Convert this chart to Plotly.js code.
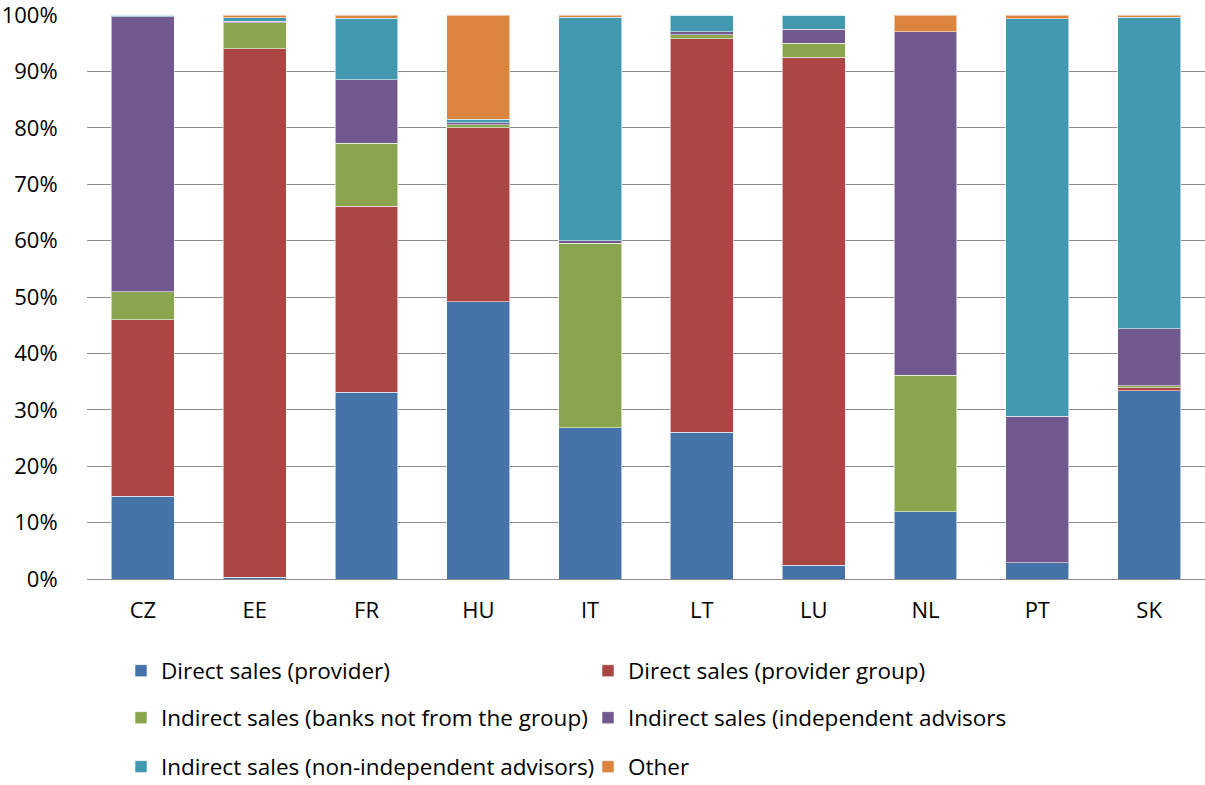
<!DOCTYPE html>
<html>
<head>
<meta charset="utf-8">
<script src="https://cdn.plot.ly/plotly-3.0.1.min.js"></script>
<style>html,body{margin:0;padding:0;background:#fff;}#chart{width:1205px;height:785px;}</style>
</head>
<body>
<div id="chart"></div>
<script>
const categories = ["CZ", "EE", "FR", "HU", "IT", "LT", "LU", "NL", "PT", "SK"];
const directProvider      = [14.7,  0.3, 33.1, 49.2, 26.8, 26.0,  2.4, 11.9,  2.9, 33.4];
const directProviderGroup = [31.3, 93.7, 33.0, 30.8,  0.0, 69.8, 90.1,  0.0,  0.0,  0.5];
const indirectBanks       = [ 4.9,  4.6, 11.2,  0.5, 32.7,  0.7,  2.5, 24.2,  0.0,  0.4];
const indirectIndependent = [48.8,  0.3, 11.2,  0.4,  0.5,  0.5,  2.5, 60.9, 26.0, 10.1];
const indirectNonIndep    = [ 0.3,  0.6, 10.9,  0.6, 39.6,  3.0,  2.5,  0.0, 70.4, 55.2];
const other               = [ 0.0,  0.5,  0.6, 18.5,  0.4,  0.0,  0.0,  3.0,  0.7,  0.4];
const seriesNames = [
  "Direct sales (provider)",
  "Direct sales (provider group)",
  "Indirect sales (banks not from the group)",
  "Indirect sales (independent advisors",
  "Indirect sales (non-independent advisors)",
  "Other"
];
const yTickVals = [0, 10, 20, 30, 40, 50, 60, 70, 80, 90, 100];
const yTickText = ["0%", "10%", "20%", "30%", "40%", "50%", "60%", "70%", "80%", "90%", "100%"];

const seriesValues = [directProvider, directProviderGroup, indirectBanks, indirectIndependent, indirectNonIndep, other];
const colors = ["#4572A7", "#AA4643", "#89A54E", "#71588F", "#4198AF", "#DB843D"];
const legendIds = ["legend", "legend", "legend2", "legend2", "legend3", "legend3"];

const FONT = "Open Sans, Noto Sans, sans-serif";

const traces = seriesValues.map((vals, i) => ({
  type: "bar",
  name: seriesNames[i],
  x: categories,
  y: vals,
  legend: legendIds[i],
  marker: { color: colors[i], line: { color: "rgba(255,255,255,0.55)", width: 1 } },
  hoverinfo: "x+y+name"
}));

function legendCfg(yPx) {
  return {
    orientation: "h",
    xref: "container", yref: "container",
    x: 121 / 1205, xanchor: "left",
    y: 1 - yPx / 785, yanchor: "middle",
    entrywidth: 422, entrywidthmode: "pixels",
    font: { family: FONT, size: 22.5, color: "#000" },
    itemwidth: 30,
    bgcolor: "rgba(0,0,0,0)",
    traceorder: "normal"
  };
}

const layout = {
  width: 1205, height: 785,
  margin: { l: 87, r: 0, t: 15, b: 206 },
  paper_bgcolor: "#fff", plot_bgcolor: "#fff",
  barmode: "stack",
  bargap: 0.4375,
  showlegend: true,
  font: { family: FONT, size: 22, color: "#000" },
  xaxis: {
    type: "category",
    showgrid: false,
    showline: true, linecolor: "#8c8c8c", linewidth: 1,
    ticks: "outside", ticklen: 12, tickcolor: "rgba(0,0,0,0)",
    tickfont: { family: FONT, size: 22, color: "#000" },
    fixedrange: true
  },
  yaxis: {
    range: [0, 100],
    tickvals: yTickVals, ticktext: yTickText,
    showgrid: true, gridcolor: "#8c8c8c", gridwidth: 1,
    zeroline: false, showline: false,
    ticks: "outside", ticklen: 24, tickcolor: "rgba(0,0,0,0)",
    ticklabeloverflow: "allow",
    tickfont: { family: FONT, size: 22, color: "#000" },
    fixedrange: true
  },
  legend: legendCfg(671),
  legend2: legendCfg(718),
  legend3: legendCfg(767)
};

Plotly.newPlot("chart", traces, layout, { displayModeBar: false, staticPlot: true });
</script>
</body>
</html>
